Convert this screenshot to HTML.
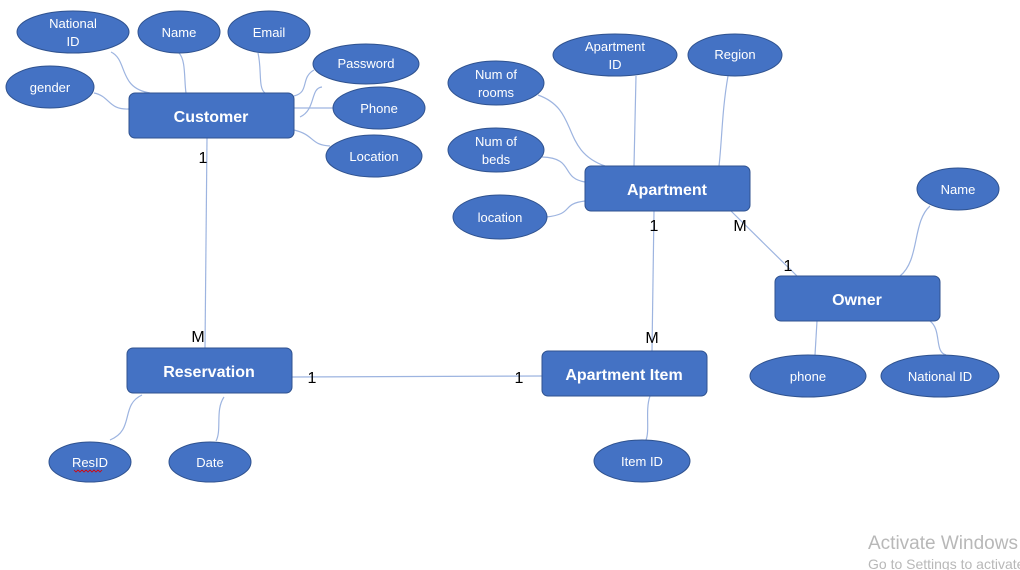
<!DOCTYPE html>
<html><head><style>
body{margin:0;background:#fff;width:1020px;height:570px;overflow:hidden}
svg{display:block}
.e{fill:#4472C4;stroke:#2F528F;stroke-width:1}
.r{fill:#4472C4;stroke:#2F528F;stroke-width:1}
.l{fill:none;stroke:#9DB4E0;stroke-width:1.2}
.t{font-family:"Liberation Sans",sans-serif;font-size:13px;fill:#fff;text-anchor:middle}
.b{font-family:"Liberation Sans",sans-serif;font-size:16px;font-weight:bold;fill:#fff;text-anchor:middle}
.c{font-family:"Liberation Sans",sans-serif;font-size:16px;fill:#000;text-anchor:middle}
</style></head><body>
<svg width="1020" height="570" viewBox="0 0 1020 570">
<!-- connectors -->
<path class="l" d="M111 52 C128 60,118 88,150 93"/>
<path class="l" d="M179 53 C186 60,184 80,186 93"/>
<path class="l" d="M258 53 C262 70,258 88,265 93"/>
<path class="l" d="M314 70 C300 78,310 92,294 96"/>
<path class="l" d="M322 87 C310 88,316 110,300 117"/>
<path class="l" d="M294 108 L334 108"/>
<path class="l" d="M94 93 C110 96,108 110,129 109"/>
<path class="l" d="M294 130 C315 135,310 145,330 146"/>
<path class="l" d="M207 138 L205 348"/>
<path class="l" d="M292 377 L542 376"/>
<path class="l" d="M636 76 L634 166"/>
<path class="l" d="M728 76 C722 110,722 140,719 166"/>
<path class="l" d="M538 95 C580 110,560 150,605 166"/>
<path class="l" d="M542 157 C575 158,560 178,585 182"/>
<path class="l" d="M546 217 C575 214,560 204,585 201"/>
<path class="l" d="M654 211 L652 351"/>
<path class="l" d="M731 211 L797 276"/>
<path class="l" d="M930 206 C912 222,920 260,900 276"/>
<path class="l" d="M817 321 L815 355"/>
<path class="l" d="M930 321 C942 330,934 352,946 355"/>
<path class="l" d="M142 395 C120 405,135 430,110 440"/>
<path class="l" d="M224 397 C215 410,222 430,216 441"/>
<path class="l" d="M650 396 C645 410,650 430,646 440"/>
<!-- customer attrs -->
<ellipse class="e" cx="73" cy="32" rx="56" ry="21"/><text class="t" x="73" y="28">National</text><text class="t" x="73" y="46">ID</text>
<ellipse class="e" cx="179" cy="32" rx="41" ry="21"/><text class="t" x="179" y="37">Name</text>
<ellipse class="e" cx="269" cy="32" rx="41" ry="21"/><text class="t" x="269" y="37">Email</text>
<ellipse class="e" cx="366" cy="64" rx="53" ry="20"/><text class="t" x="366" y="68">Password</text>
<ellipse class="e" cx="50" cy="87" rx="44" ry="21"/><text class="t" x="50" y="92">gender</text>
<ellipse class="e" cx="379" cy="108" rx="46" ry="21"/><text class="t" x="379" y="113">Phone</text>
<ellipse class="e" cx="374" cy="156" rx="48" ry="21"/><text class="t" x="374" y="161">Location</text>
<rect class="r" x="129" y="93" width="165" height="45" rx="6"/><text class="b" x="211" y="122">Customer</text>
<!-- apartment -->
<ellipse class="e" cx="615" cy="55" rx="62" ry="21"/><text class="t" x="615" y="51">Apartment</text><text class="t" x="615" y="69">ID</text>
<ellipse class="e" cx="735" cy="55" rx="47" ry="21"/><text class="t" x="735" y="59">Region</text>
<ellipse class="e" cx="496" cy="83" rx="48" ry="22"/><text class="t" x="496" y="79">Num of</text><text class="t" x="496" y="97">rooms</text>
<ellipse class="e" cx="496" cy="150" rx="48" ry="22"/><text class="t" x="496" y="146">Num of</text><text class="t" x="496" y="164">beds</text>
<ellipse class="e" cx="500" cy="217" rx="47" ry="22"/><text class="t" x="500" y="222">location</text>
<rect class="r" x="585" y="166" width="165" height="45" rx="6"/><text class="b" x="667" y="195">Apartment</text>
<!-- owner -->
<ellipse class="e" cx="958" cy="189" rx="41" ry="21"/><text class="t" x="958" y="194">Name</text>
<rect class="r" x="775" y="276" width="165" height="45" rx="6"/><text class="b" x="857" y="305">Owner</text>
<ellipse class="e" cx="808" cy="376" rx="58" ry="21"/><text class="t" x="808" y="381">phone</text>
<ellipse class="e" cx="940" cy="376" rx="59" ry="21"/><text class="t" x="940" y="381">National ID</text>
<!-- reservation -->
<rect class="r" x="127" y="348" width="165" height="45" rx="6"/><text class="b" x="209" y="377">Reservation</text>
<ellipse class="e" cx="90" cy="462" rx="41" ry="20"/><text class="t" x="90" y="467">ResID</text>
<path d="M74 470 l2 2 l2 -2 l2 2 l2 -2 l2 2 l2 -2 l2 2 l2 -2 l2 2 l2 -2 l2 2 l2 -2 l2 2 l2 -2" fill="none" stroke="#d00" stroke-width="0.8"/>
<ellipse class="e" cx="210" cy="462" rx="41" ry="20"/><text class="t" x="210" y="467">Date</text>
<rect class="r" x="542" y="351" width="165" height="45" rx="6"/><text class="b" x="624" y="380">Apartment Item</text>
<ellipse class="e" cx="642" cy="461" rx="48" ry="21"/><text class="t" x="642" y="466">Item ID</text>
<!-- cardinalities -->
<text class="c" x="203" y="163">1</text>
<text class="c" x="198" y="342">M</text>
<text class="c" x="312" y="383">1</text>
<text class="c" x="519" y="383">1</text>
<text class="c" x="654" y="231">1</text>
<text class="c" x="740" y="231">M</text>
<text class="c" x="788" y="271">1</text>
<text class="c" x="652" y="343">M</text>
<text x="868" y="549" font-family="Liberation Sans,sans-serif" font-size="19" fill="#b8b8b8">Activate Windows</text>
<text x="868" y="569" font-family="Liberation Sans,sans-serif" font-size="14" fill="#b8b8b8">Go to Settings to activate</text>
</svg>
</body></html>
